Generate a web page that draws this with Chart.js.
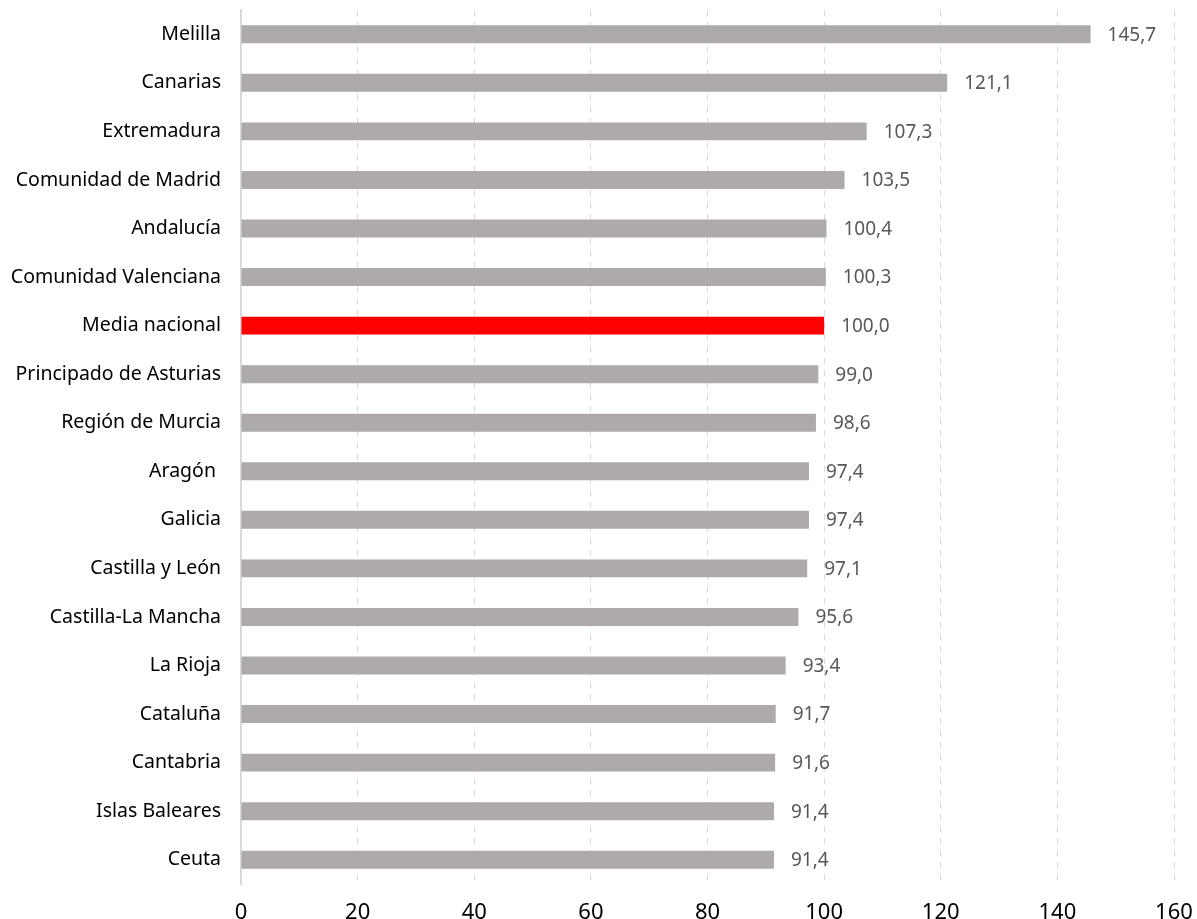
<!DOCTYPE html>
<html lang="es">
<head>
<meta charset="UTF-8">
<title>Índice por comunidad</title>
<script src="https://cdn.jsdelivr.net/npm/chart.js"></script>
<style>
  body { margin: 0; background: #fff; }
  .grafica { width: 1197px; height: 919px; }
</style>
</head>
<body>
<div class="grafica">
  <canvas id="myChart"></canvas>
</div>
<script>
  const regiones = ['Melilla', 'Canarias', 'Extremadura', 'Comunidad de Madrid', 'Andalucía',
    'Comunidad Valenciana', 'Media nacional', 'Principado de Asturias', 'Región de Murcia',
    'Aragón ', 'Galicia', 'Castilla y León', 'Castilla-La Mancha', 'La Rioja', 'Cataluña',
    'Cantabria', 'Islas Baleares', 'Ceuta'];
  const valores = [145.7, 121.1, 107.3, 103.5, 100.4, 100.3, 100.0, 99.0, 98.6,
    97.4, 97.4, 97.1, 95.6, 93.4, 91.7, 91.6, 91.4, 91.4];
  const ejeMin = 0;
  const ejeMax = 160;
  const ejePaso = 20;

  const fuente = "'Noto Sans', sans-serif";
  const colores = regiones.map((r) => r === 'Media nacional' ? '#FF0000' : '#AEAAAA');

  /* etiquetas de valor al final de cada barra */
  const etiquetas = {
    id: 'etiquetas',
    afterDatasetsDraw(chart) {
      const ctx = chart.ctx;
      const meta = chart.getDatasetMeta(0);
      ctx.save();
      ctx.font = '19px ' + fuente;
      ctx.fillStyle = '#595959';
      ctx.textBaseline = 'middle';
      ctx.textAlign = 'left';
      meta.data.forEach((bar, i) => {
        const txt = valores[i].toFixed(1).replace('.', ',');
        ctx.fillText(txt, bar.x + 17, bar.y + 1);
      });
      ctx.restore();
    }
  };

  new Chart(document.getElementById('myChart'), {
    type: 'bar',
    data: {
      labels: regiones,
      datasets: [{
        data: valores,
        backgroundColor: colores,
        categoryPercentage: 0.37,
        barPercentage: 1
      }]
    },
    options: {
      indexAxis: 'y',
      responsive: true,
      maintainAspectRatio: false,
      animation: false,
      layout: { padding: { top: 10, right: 23, left: 0, bottom: 0 } },
      plugins: {
        legend: { display: false },
        tooltip: { enabled: false }
      },
      scales: {
        x: {
          min: ejeMin,
          max: ejeMax,
          ticks: {
            stepSize: ejePaso,
            color: '#000',
            font: { family: fuente, size: 22 },
            padding: 16
          },
          grid: {
            color: '#d9d9d9',
            drawTicks: false
          },
          border: { display: false, dash: [6, 6] },
          afterFit(scale) {
            scale.height = 35;
            scale.paddingLeft = 0;
            scale.paddingRight = 0;
          }
        },
        y: {
          ticks: {
            color: '#000',
            font: { family: fuente, size: 19.5 },
            padding: 12
          },
          grid: { display: false },
          border: { display: true, color: '#d9d9d9', width: 2 },
          afterFit(scale) {
            scale.width = 241;
            scale.paddingTop = 0;
            scale.paddingBottom = 0;
          }
        }
      }
    },
    plugins: [etiquetas]
  });
</script>
</body>
</html>
